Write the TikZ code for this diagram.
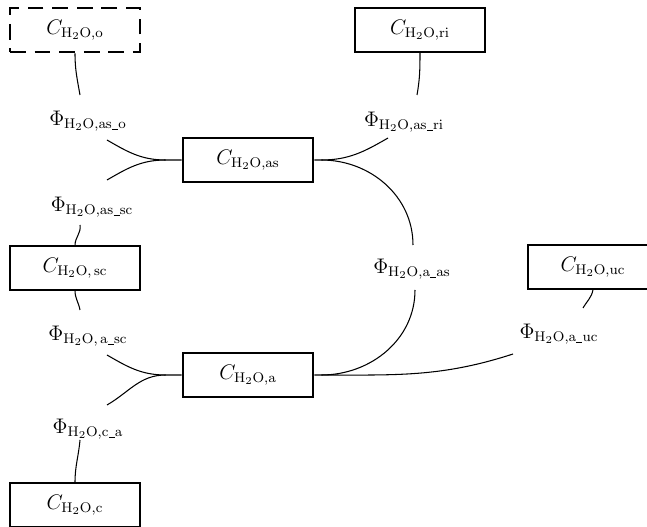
\documentclass[tikz,border=0pt]{standalone}
\usepackage{amsmath}
\usetikzlibrary{positioning}

\tikzset{
  pool/.style={draw, line width=0.75pt, minimum width=2.6cm, minimum height=0.88cm, inner sep=0pt, font=\large},
  mainpool/.style={pool, line width=1.6pt},
  openpool/.style={pool, line width=1.6pt, dash pattern=on 9pt off 5pt},
  flux/.style={inner sep=1pt, font=\large},
  link/.style={line width=0.6pt}
}

\newcommand{\cw}[1]{$C_{\mathrm{H_2O,#1}}$}
\newcommand{\fw}[1]{$\Phi_{\mathrm{H_2O,#1}}$}
\newcommand{\us}{\text{\kern0.02em\rule[-0.22ex]{0.42em}{0.045ex}\kern0.02em}}

\begin{document}
\begin{tikzpicture}[x=0.02cm, y=-0.02cm]
    \useasboundingbox (0,0) rectangle (647,527);

    % pools
    \node[openpool] (o) at (75,30) {\cw{o}};
    \node[pool] (ri) at (420,30) {\cw{ri}};
    \node[mainpool] (as) at (248,160) {\cw{as}};
    \node[pool] (sc) at (75,268) {\cw{\,sc}};
    \node[pool] (uc) at (593,267) {\cw{uc}};
    \node[mainpool] (a) at (248,375) {\cw{a}};
    \node[pool] (c) at (75,505) {\cw{c}};

    % fluxes
    \node[flux] (po) at (88,121) {\fw{as\us o}};
    \node[flux] (pri) at (404,122) {\fw{as\us ri}};
    \node[flux] (psc) at (92,207) {\fw{as\us sc}};
    \node[flux] (paas) at (412,269) {\fw{a\us as}};
    \node[flux] (pauc) at (559,334) {\fw{a\us uc}};
    \node[flux] (pasc) at (88,336) {\fw{\,a\us sc}};
    \node[flux] (pca) at (88,429) {\fw{c\us a}};

    % links around the air space
    \draw[link] (o.south) to[out=-90, in=100] ([shift={(-8,-26)}]po.center);
    \draw[link] (ri.south) to[out=-90, in=80] ([shift={(13,-27)}]pri.center);
    \draw[link] (as.west) -- ++(-16,0) coordinate (asL)
        to[out=180, in=-30] ([shift={(19,19)}]po.center);
    \draw[link] (asL) to[out=180, in=30] ([shift={(15,-27)}]psc.center);
    \draw[link] (sc.north) to[out=90, in=-80] ([shift={(-12,18)}]psc.center);
    \draw[link] (as.east) -- ++(7,0) coordinate (asR)
        to[out=0, in=-150] ([shift={(-16,16)}]pri.center);
    \draw[link] (asR) to[out=0, in=90] ([shift={(1,-24)}]paas.center);

    % links around the apoplast
    \draw[link] (a.east) -- ++(7,0) coordinate (aR)
        to[out=0, in=-90] ([shift={(3,21)}]paas.center);
    \draw[link] (aR) to[out=0, in=-162] ([shift={(-46,20)}]pauc.center);
    \draw[link] (uc.south) to[out=-100, in=60] ([shift={(24,-26)}]pauc.center);
    \draw[link] (a.west) -- ++(-16,0) coordinate (aL)
        to[out=180, in=-30] ([shift={(19,19)}]pasc.center);
    \draw[link] (aL) to[out=180, in=30] ([shift={(19,-24)}]pca.center);
    \draw[link] (sc.south) to[out=-90, in=100] ([shift={(-8,-26)}]pasc.center);
    \draw[link] (c.north) to[out=90, in=-95] ([shift={(-8,11)}]pca.center);
\end{tikzpicture}
\end{document}
